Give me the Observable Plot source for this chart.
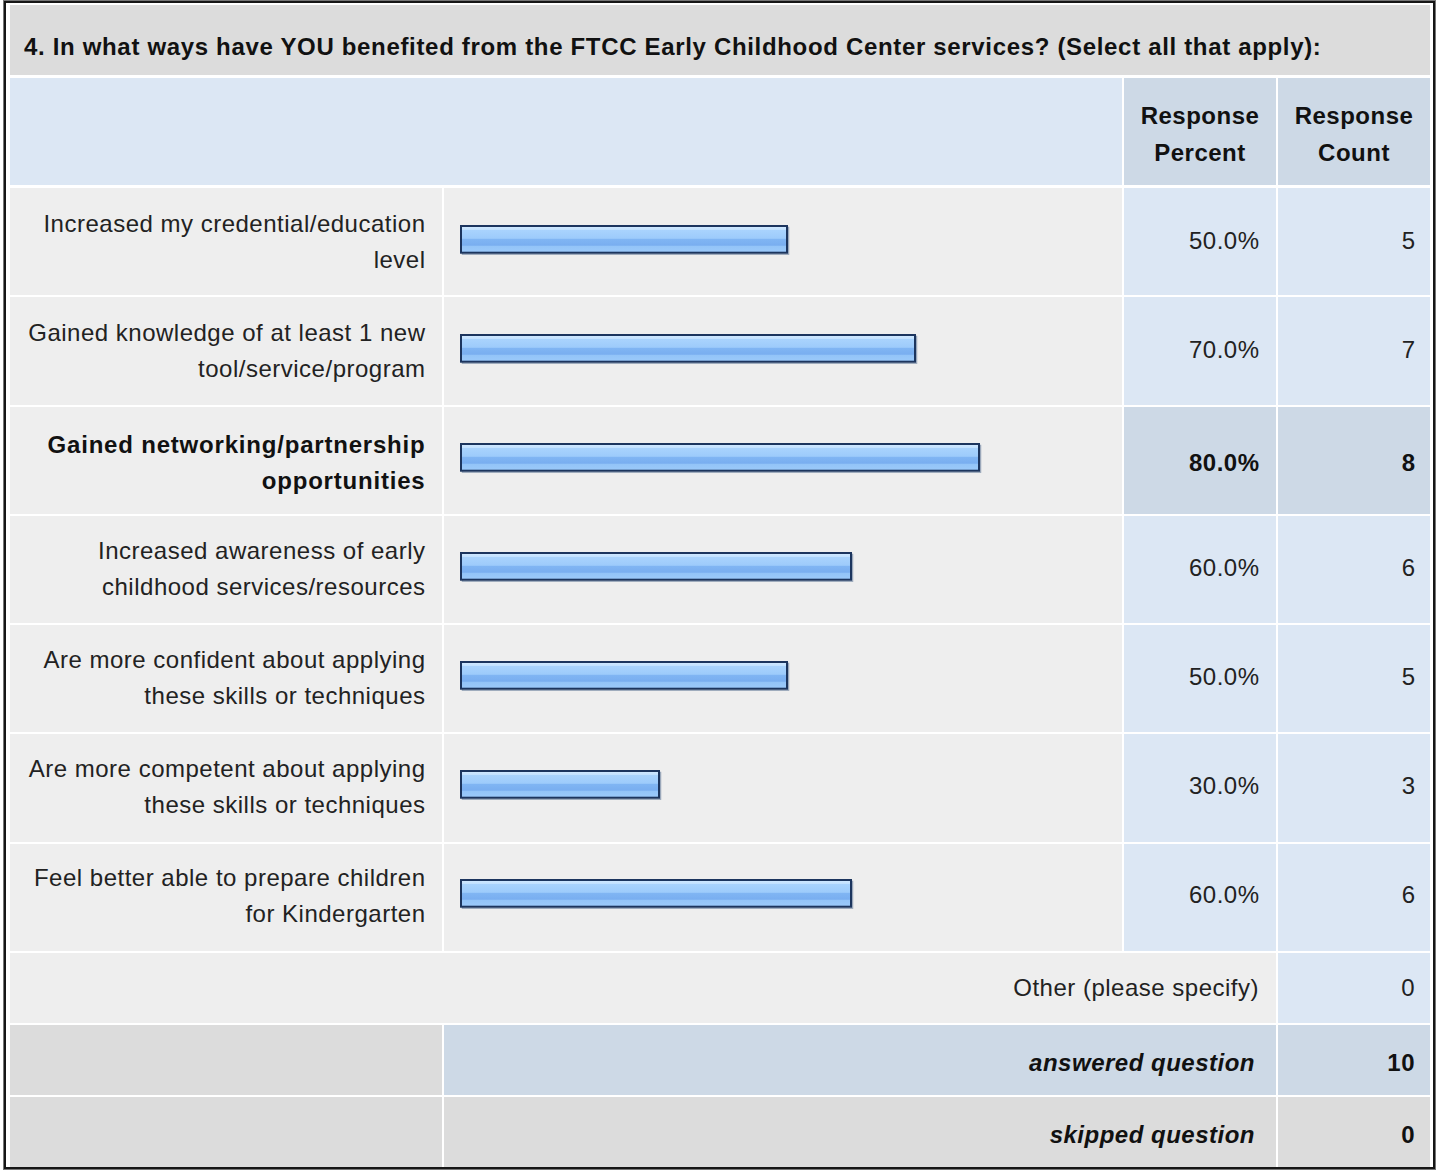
<!DOCTYPE html>
<html>
<head>
<meta charset="utf-8">
<script src="https://cdn.jsdelivr.net/npm/d3@7"></script>
<script src="https://cdn.jsdelivr.net/npm/@observablehq/plot@0.6"></script>
<style>
  html, body { margin: 0; padding: 0; background: #fff; }
  #page { position: relative; width: 1437px; height: 1170px; overflow: hidden;
          font-family: "Liberation Sans", Arial, sans-serif; font-size: 24px; color: #222;
          letter-spacing: 0.5px; }
  .frame { position: absolute; left: 4px; top: 1px; width: 1427px; height: 1164px;
           border: 2px solid #161616; box-shadow: 0 0 0 1px #777; }
  .cell { position: absolute; box-sizing: border-box; white-space: nowrap; }
  .bold { font-weight: bold; color: #111; }
  .ital { font-style: italic; }
  #chart { position: absolute; left: 0; top: 0; }
</style>
</head>
<body>
<div id="page">
  <div class="frame"></div>
</div>
<script>
// ---- data ----
const titleText = "4. In what ways have YOU benefited from the FTCC Early Childhood Center services? (Select all that apply):";
const headerPercent = ["Response", "Percent"];
const headerCount = ["Response", "Count"];
const categories = [
  ["Increased my credential/education", "level"],
  ["Gained knowledge of at least 1 new", "tool/service/program"],
  ["Gained networking/partnership", "opportunities"],
  ["Increased awareness of early", "childhood services/resources"],
  ["Are more confident about applying", "these skills or techniques"],
  ["Are more competent about applying", "these skills or techniques"],
  ["Feel better able to prepare children", "for Kindergarten"]
];
const percents = [50.0, 70.0, 80.0, 60.0, 50.0, 30.0, 60.0];
const counts = [5, 7, 8, 6, 5, 3, 6];
const otherLabel = "Other (please specify)";
const otherCount = 0;
const answeredLabel = "answered question";
const answeredCount = 10;
const skippedLabel = "skipped question";
const skippedCount = 0;

// ---- colours ----
const C = { title: "#dcdcdc", head: "#dce7f4", headDark: "#cdd9e6", body: "#eeeeee",
            num: "#dce7f4", numDark: "#cdd9e6", foot: "#dcdcdc" };

const maxPct = d3.max(percents);
const rows = categories.map((c, i) => ({
  key: c.join(" "), text: c.join("\n"), pct: percents[i], count: counts[i], isTop: percents[i] === maxPct
}));

const page = document.getElementById("page");
function cell(x, y, w, h, bg, html, opts = {}) {
  const d = document.createElement("div");
  d.className = "cell" + (opts.cls ? " " + opts.cls : "");
  Object.assign(d.style, { left: x + "px", top: y + "px", width: w + "px", height: h + "px", background: bg });
  if (html != null) {
    const s = document.createElement("div");
    Object.assign(s.style, { position: "absolute", left: 0, right: 0, top: 0, height: h + "px",
      lineHeight: (opts.lh || h) + "px", textAlign: opts.align || "left",
      paddingLeft: (opts.pl || 0) + "px", paddingRight: (opts.pr || 0) + "px",
      paddingTop: (opts.pt || 0) + "px", boxSizing: "border-box" });
    if (opts.ls) s.style.letterSpacing = opts.ls;
    s.innerHTML = html;
    d.appendChild(s);
  }
  page.appendChild(d);
}

// column geometry
const colLabel = [10, 432], colBar = [444, 678], colPct = [1124, 152], colCnt = [1278, 152];

// title
cell(10, 5, 1420, 70, C.title, titleText, { cls: "bold", pl: 14, pt: 11, lh: 62, ls: "0.67px" });
// header
cell(10, 78, 1112, 107, C.head);
cell(colPct[0], 78, colPct[1], 107, C.headDark, headerPercent.join("<br>"), { cls: "bold", align: "center", lh: 37, pt: 19 });
cell(colCnt[0], 78, colCnt[1], 107, C.headDark, headerCount.join("<br>"), { cls: "bold", align: "center", lh: 37, pt: 19 });

// body row backgrounds
const bodyTop = 188, gap = 2, step = (953 - bodyTop) / rows.length, rowH = step - gap;
rows.forEach((r, i) => {
  const y = bodyTop + i * step;
  cell(colLabel[0], y, colLabel[1], rowH, C.body);
  cell(colBar[0], y, colBar[1], rowH, C.body);
  cell(colPct[0], y, colPct[1], rowH, r.isTop ? C.numDark : C.num);
  cell(colCnt[0], y, colCnt[1], rowH, r.isTop ? C.numDark : C.num);
});

// footer rows
cell(10, 953, 1266, 70, C.body, otherLabel, { align: "right", pr: 17 });
cell(colCnt[0], 953, colCnt[1], 70, C.num, String(otherCount), { align: "right", pr: 15 });
cell(10, 1025, 432, 70, C.foot);
cell(444, 1025, 832, 70, C.numDark, answeredLabel, { cls: "bold ital", align: "right", pr: 21, pt: 3 });
cell(colCnt[0], 1025, colCnt[1], 70, C.numDark, String(answeredCount), { cls: "bold", align: "right", pr: 15, pt: 3 });
cell(10, 1097, 432, 70, C.foot);
cell(444, 1097, 832, 70, C.foot, skippedLabel, { cls: "bold ital", align: "right", pr: 21, pt: 3 });
cell(colCnt[0], 1097, colCnt[1], 70, C.foot, String(skippedCount), { cls: "bold", align: "right", pr: 15, pt: 3 });

// ---- the chart (bars + row texts) ----
const barOpts = { y: "key", insetTop: 38, insetBottom: 44.3, insetLeft: -6 };
const labelOpts = { y: "key", text: "text", frameAnchor: "left", textAnchor: "end",
                    dx: -19, dy: -4.5, lineHeight: 1.52, fontSize: 24 };
const pctOpts = { y: "key", text: d => d.pct.toFixed(1) + "%", frameAnchor: "right", textAnchor: "end",
                  dx: 137, dy: -1.5, fontSize: 24 };
const cntOpts = { y: "key", text: d => String(d.count), frameAnchor: "right", textAnchor: "end",
                  dx: 293, dy: -1.5, fontSize: 24 };
const normalRows = rows.filter(d => !d.isTop), topRows = rows.filter(d => d.isTop);
const boldOpts = { fontWeight: "bold", fill: "#111" };
const chart = Plot.plot({
  width: 1437,
  height: 1170,
  marginLeft: 444,
  marginRight: 315,
  marginTop: 187,
  marginBottom: 218,
  style: { background: "transparent", fontFamily: "Liberation Sans, Arial, sans-serif",
           fontSize: "24px", letterSpacing: "0.5px", color: "#222", overflow: "visible" },
  x: { domain: [0, 100], range: [467, 1107], axis: null },
  y: { domain: rows.map(d => d.key), padding: 0, axis: null },
  marks: [
    Plot.barX(rows, { ...barOpts, x: "pct", fill: "none", stroke: "#9ba8ba", strokeWidth: 1.5, dx: 1.5, dy: 1.5 }),
    Plot.barX(rows, { ...barOpts, x: "pct", fill: "url(#barGrad)", stroke: "#1c355e", strokeWidth: 2 }),
    Plot.text(normalRows, labelOpts),
    Plot.text(topRows, { ...labelOpts, ...boldOpts, dy: -1.5 }),
    Plot.text(normalRows, pctOpts),
    Plot.text(topRows, { ...pctOpts, ...boldOpts, dy: 2 }),
    Plot.text(normalRows, cntOpts),
    Plot.text(topRows, { ...cntOpts, ...boldOpts, dy: 2 })
  ]
});
chart.id = "chart";
// wider letter spacing for the bold label, as in the reference
d3.select(chart).selectAll("g[aria-label='text']").filter((_, i) => i === 1).style("letter-spacing", "0.8px");
// gradient for the glossy bars
const grad = d3.select(chart).insert("defs", ":first-child")
  .append("linearGradient").attr("id", "barGrad").attr("x1", 0).attr("y1", 0).attr("x2", 0).attr("y2", 1);
[[0, "#d3eaff"], [0.14, "#c2e1ff"], [0.16, "#a9d3fd"], [0.46, "#9dcbfb"], [0.5, "#80b5f3"],
 [0.72, "#79aef0"], [0.76, "#93c4f8"], [1, "#9ccafa"]]
  .forEach(([o, c]) => grad.append("stop").attr("offset", o).attr("stop-color", c));
page.appendChild(chart);
</script>
</body>
</html>
